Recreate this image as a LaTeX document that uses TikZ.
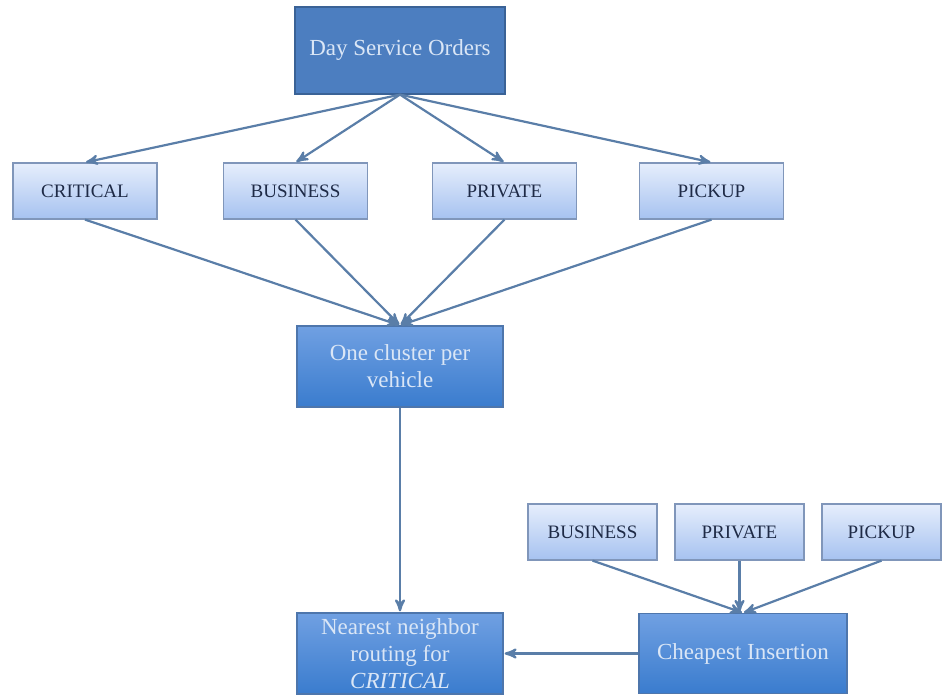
\documentclass[tikz,border=0pt]{standalone}
\usepackage{fontspec}
\setmainfont{Liberation Serif}
\usepackage{tikz}
\usetikzlibrary{
  arrows,
  positioning
}
\definecolor{linkblue}{RGB}{90,126,168}
\definecolor{headblue}{RGB}{76,126,192}
\definecolor{headborder}{RGB}{58,98,150}
\definecolor{stagetop}{RGB}{112,160,226}
\definecolor{stagebottom}{RGB}{58,124,206}
\definecolor{stageborder}{RGB}{78,118,172}
\definecolor{stagetext}{RGB}{218,230,246}
\definecolor{cattop}{RGB}{230,238,252}
\definecolor{catbottom}{RGB}{166,194,240}
\definecolor{catborder}{RGB}{128,150,186}
\definecolor{cattext}{RGB}{30,42,70}

\begin{document}
\begin{tikzpicture}[x=0.5pt,y=-0.5pt,
      category/.style={
         rectangle,
         minimum width=72pt,
         minimum height=28pt,
         inner sep=0pt,
         line width=0.6pt,
         draw=catborder,
         top color=cattop,
         bottom color=catbottom,
         text=cattext,
         font=\fontsize{9.5}{11}\selectfont
      },
      stage/.style={
         rectangle,
         minimum width=103pt,
         minimum height=40.5pt,
         inner sep=0pt,
         align=center,
         line width=0.6pt,
         draw=stageborder,
         top color=stagetop,
         bottom color=stagebottom,
         text=stagetext,
         font=\fontsize{11.5}{13.5}\selectfont
      },
      head/.style={
         stage,
         minimum width=105pt,
         minimum height=43.5pt,
         draw=headborder,
         top color=headblue,
         bottom color=headblue
      },
      >=stealth',
      tip/.style={->,line width=1.1pt,draw=linkblue,shorten >=0.5pt}
    ]
    \useasboundingbox (0,0) rectangle (942,695);

    \node (n1) [head] at (400,50.5) {Day Service Orders};
    \node (n21) [category] at (85,191) {CRITICAL};
    \node (n22) [category] at (295.5,191) {BUSINESS};
    \node (n23) [category] at (504.5,191) {PRIVATE};
    \node (n24) [category] at (711.5,191) {PICKUP};
    \node (n3) [stage] at (400,366.5) {One cluster per\\vehicle};
    \node (n4) [stage] at (400,653.5) {Nearest neighbor\\routing for\\\textit{CRITICAL}};
    \node (n51) [category, minimum width=64.5pt] at (592.5,532) {BUSINESS};
    \node (n52) [category, minimum width=64.5pt] at (739.5,532) {PRIVATE};
    \node (n53) [category, minimum width=59.5pt] at (881.5,532) {PICKUP};
    \node (n6) [stage, minimum width=104pt, minimum height=40pt] at (743,653.5) {Cheapest Insertion};

    \draw [tip] (n1.south) -- (n21.north);
    \draw [tip] (n1.south) -- (n22.north);
    \draw [tip] (n1.south) -- (n23.north);
    \draw [tip] (n1.south) -- (n24.north);
    \draw [tip] (n21.south) -- (n3.north);
    \draw [tip] (n22.south) -- (n3.north);
    \draw [tip] (n23.south) -- (n3.north);
    \draw [tip] (n24.south) -- (n3.north);
    \draw [tip] (n3.south) -- (n4.north);
    \draw [tip] (n51.south) -- (n6.north);
    \draw [tip] (n52.south) -- (n52.south |- n6.north);
    \draw [tip] (n53.south) -- (n6.north);
    \draw [tip] (n6.west) -- (n4.east);
\end{tikzpicture}
\end{document}
